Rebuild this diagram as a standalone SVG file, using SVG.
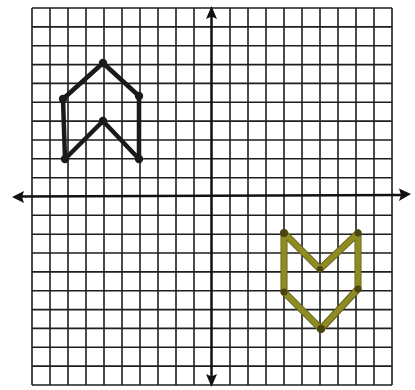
<svg xmlns="http://www.w3.org/2000/svg" width="415" height="390" viewBox="0 0 415 390">
<defs>
<style>
.grid line{stroke:#1e1e1e;stroke-width:1.6}
.axis{stroke:#111;stroke-width:2.5}
.blk{fill:none;stroke:#1a1a1a;stroke-width:4.5;stroke-linejoin:round;stroke-linecap:round}
.olv{fill:none;stroke:#8e8b22;stroke-width:5.5;stroke-linejoin:round;stroke-linecap:round}
.olv2{fill:none;stroke:#5c5a12;stroke-width:7;stroke-linejoin:round;stroke-linecap:round}
.bdot{fill:#1a1a1a}
.odot{fill:#4a4410}
.ah{fill:#111}
</style>
</defs>
<rect width="415" height="390" fill="#fff"/>
<g class="grid" id="grid">
<line x1="32" y1="8" x2="32" y2="385"/>
<line x1="50" y1="8" x2="50" y2="385"/>
<line x1="68" y1="8" x2="68" y2="385"/>
<line x1="86" y1="8" x2="86" y2="385"/>
<line x1="104" y1="8" x2="104" y2="385"/>
<line x1="122" y1="8" x2="122" y2="385"/>
<line x1="140" y1="8" x2="140" y2="385"/>
<line x1="158" y1="8" x2="158" y2="385"/>
<line x1="176" y1="8" x2="176" y2="385"/>
<line x1="194" y1="8" x2="194" y2="385"/>
<line x1="230" y1="8" x2="230" y2="385"/>
<line x1="248" y1="8" x2="248" y2="385"/>
<line x1="266" y1="8" x2="266" y2="385"/>
<line x1="284" y1="8" x2="284" y2="385"/>
<line x1="302" y1="8" x2="302" y2="385"/>
<line x1="320" y1="8" x2="320" y2="385"/>
<line x1="338" y1="8" x2="338" y2="385"/>
<line x1="356" y1="8" x2="356" y2="385"/>
<line x1="374" y1="8" x2="374" y2="385"/>
<line x1="392" y1="8" x2="392" y2="385"/>
<line x1="32" y1="8" x2="392" y2="8"/>
<line x1="32" y1="26.9" x2="392" y2="26.9"/>
<line x1="32" y1="45.7" x2="392" y2="45.7"/>
<line x1="32" y1="64.6" x2="392" y2="64.6"/>
<line x1="32" y1="83.4" x2="392" y2="83.4"/>
<line x1="32" y1="102.3" x2="392" y2="102.3"/>
<line x1="32" y1="121.1" x2="392" y2="121.1"/>
<line x1="32" y1="140" x2="392" y2="140"/>
<line x1="32" y1="158.8" x2="392" y2="158.8"/>
<line x1="32" y1="177.7" x2="392" y2="177.7"/>
<line x1="32" y1="215.3" x2="392" y2="215.3"/>
<line x1="32" y1="234.2" x2="392" y2="234.2"/>
<line x1="32" y1="253" x2="392" y2="253"/>
<line x1="32" y1="271.9" x2="392" y2="271.9"/>
<line x1="32" y1="290.7" x2="392" y2="290.7"/>
<line x1="32" y1="309.6" x2="392" y2="309.6"/>
<line x1="32" y1="328.4" x2="392" y2="328.4"/>
<line x1="32" y1="347.3" x2="392" y2="347.3"/>
<line x1="32" y1="366.1" x2="392" y2="366.1"/>
<line x1="32" y1="385" x2="392" y2="385"/>
</g>
<g id="axes">
<line class="axis" x1="20" y1="196.5" x2="402" y2="195"/>
<polygon class="ah" points="12,197 24,191 22,197 24,203"/>
<polygon class="ah" points="411,194 399,188.5 401,195 399,201"/>
<line class="axis" x1="211.5" y1="16" x2="211.5" y2="378"/>
<polygon class="ah" points="211.5,6 206,19 211.5,16.5 217,19"/>
<polygon class="ah" points="211.5,387 206,374 211.5,376.5 217,374"/>
</g>
<g id="shape-black">
<polygon class="blk" points="65,159 63,99 103,63 139,96 139,159 103,121"/>
<circle class="bdot" cx="103" cy="63" r="4.2"/>
<circle class="bdot" cx="63" cy="99" r="4.2"/>
<circle class="bdot" cx="139" cy="96" r="4.2"/>
<circle class="bdot" cx="103" cy="121" r="4.2"/>
<circle class="bdot" cx="65" cy="159" r="4.2"/>
<circle class="bdot" cx="139" cy="159" r="4.2"/>
</g>
<g id="shape-olive">
<polygon class="olv2" points="284,233 320,269 358,233 358,289 321,329 284,292"/>
<polygon class="olv" points="284,233 320,269 358,233 358,289 321,329 284,292"/>
<circle class="odot" cx="284" cy="233" r="4"/>
<circle class="odot" cx="358" cy="233" r="3.5"/>
<circle class="odot" cx="320" cy="269" r="3"/>
<circle class="odot" cx="284" cy="292" r="3.5"/>
<circle class="odot" cx="358" cy="289" r="3.5"/>
<circle class="odot" cx="321" cy="329" r="4"/>
</g>
</svg>
